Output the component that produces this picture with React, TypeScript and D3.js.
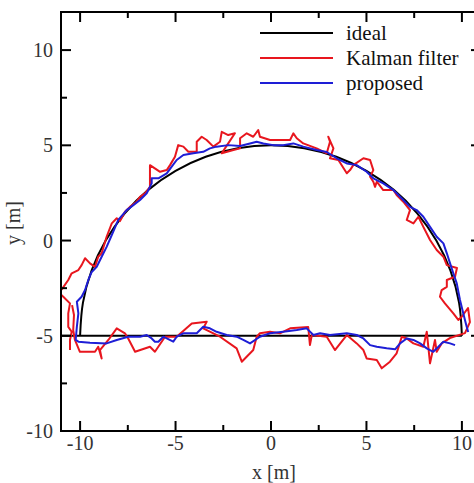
import React from 'react';
import * as d3 from 'd3';

const W = 474;
const H = 483;

const xDomain: [number, number] = [-11, 11];
const yDomain: [number, number] = [-10, 12];
const majorTicks = [-10, -5, 0, 5, 10];
const minorTicks = [-7.5, -2.5, 2.5, 7.5];

// ideal trajectory: half circle + straight return
const idealArc: [number, number][] = [
  [-10, -5], [-9.85, -3.26], [-9.4, -1.58], [-8.66, 0], [-7.66, 1.43], [-6.43, 2.66],
  [-5, 3.66], [-3.42, 4.4], [-1.74, 4.85], [0, 5], [1.74, 4.85], [3.42, 4.4],
  [5, 3.66], [6.43, 2.66], [7.66, 1.43], [8.66, 0], [9.4, -1.58], [9.85, -3.26], [10, -5],
];
const idealLine: [number, number][] = [[10, -5], [-11, -5]];

const kalman: [number, number][] = [
  [-10.53, -5.75], [-10.53, -5.22], [-10.44, -4.79], [-10.62, -4.53], [-10.62, -3.82],
  [-10.53, -3.3], [-10.88, -2.95], [-11.16, -2.7], [-10.95, -2.55], [-10.62, -2.07],
  [-10.44, -1.72], [-10.09, -1.55], [-9.92, -1.29], [-9.74, -0.93], [-9.48, -1.2],
  [-9.22, -1.38], [-9.05, -0.85], [-8.87, -0.67], [-8.61, 0.2], [-8.34, 0.9],
  [-8.08, 1.17], [-7.91, 1.02], [-7.65, 1.51], [-7.39, 1.77], [-7.04, 2.04],
  [-6.86, 2.3], [-6.6, 2.48], [-6.34, 2.82], [-6.34, 3.96], [-5.81, 3.61],
  [-5.46, 3.7], [-5.29, 3.96], [-5.03, 4.4], [-4.86, 5.01], [-4.59, 4.93],
  [-4.33, 4.66], [-3.89, 4.66], [-3.89, 5.19], [-3.63, 5.45], [-3.37, 5.28],
  [-3.02, 4.93], [-2.67, 5.19], [-2.58, 5.71], [-2.24, 5.54], [-1.89, 5.63],
  [-2.24, 5.1], [-2.58, 4.58], [-1.97, 4.75], [-1.62, 4.84], [-1.62, 5.37],
  [-1.27, 5.63], [-0.93, 5.45], [-0.67, 5.8], [-0.58, 5.45], [-0.05, 5.28],
  [0.47, 5.28], [1.0, 5.28], [1.17, 5.63], [1.35, 5.37], [1.69, 5.1],
  [2.39, 4.84], [2.92, 4.58], [3.09, 5.19], [3.0, 5.45], [3.27, 4.84],
  [3.09, 4.32], [3.53, 4.23], [3.97, 3.53], [4.14, 3.7], [4.31, 3.96],
  [4.84, 4.32], [5.19, 4.23], [5.36, 3.7], [5.19, 3.35], [5.36, 3.09],
  [5.45, 2.82], [5.54, 3.09], [5.88, 2.65], [6.41, 2.65], [6.58, 2.39],
  [6.93, 2.04], [7.28, 1.6], [7.11, 1.08], [7.46, 0.9], [7.72, 1.25],
  [7.98, 0.72], [8.33, 0.03], [8.68, -0.5], [9.03, -0.85], [9.21, -1.29],
  [9.74, -1.44], [9.64, -1.9], [9.21, -2.07], [9.21, -2.43], [8.94, -2.6],
  [8.85, -2.95], [9.11, -3.3], [9.55, -3.82], [9.81, -4.17], [9.99, -4.0],
  [10.32, -3.54], [10.42, -4.28], [10.16, -4.86], [9.37, -5.12], [8.94, -5.4],
  [8.68, -5.84], [8.59, -5.22], [8.33, -6.45], [8.16, -4.79], [7.98, -5.58],
  [7.46, -5.4], [7.11, -5.14], [6.85, -5.05], [6.58, -5.92], [6.23, -6.36],
  [5.8, -6.71], [5.54, -6.27], [5.01, -6.19], [4.84, -5.75], [4.49, -5.4],
  [3.97, -4.96], [3.35, -5.75], [2.92, -5.05], [2.14, -4.96], [2.04, -5.49],
  [1.95, -4.54], [1.0, -4.61], [0.47, -4.87], [-0.05, -4.79], [-0.58, -4.87],
  [-0.75, -5.05], [-0.93, -5.75], [-1.53, -6.36], [-1.8, -5.66], [-2.67, -5.05],
  [-3.55, -4.61], [-3.37, -4.26], [-4.15, -4.35], [-4.94, -5.05], [-5.55, -5.05],
  [-6.08, -5.84], [-6.34, -5.58], [-7.12, -5.84], [-7.48, -5.14], [-7.65, -4.87],
  [-8.08, -4.61], [-8.52, -5.22], [-8.96, -5.75], [-8.87, -6.19], [-9.05, -5.58],
  [-9.22, -5.84], [-10.01, -5.84], [-10.27, -5.22], [-10.36, -4.7], [-10.32, -3.91],
  [-10.42, -3.39],
];

const proposed: [number, number][] = [
  [9.64, -5.49], [9.38, -5.4], [9.03, -5.31], [8.77, -5.58], [8.5, -5.84],
  [8.16, -5.66], [7.81, -5.4], [7.46, -5.22], [7.11, -5.14], [6.76, -5.4],
  [6.5, -5.71], [6.06, -5.66], [5.54, -5.58], [5.19, -5.49], [4.84, -5.14],
  [4.49, -4.96], [3.97, -4.87], [3.09, -4.96], [2.57, -4.87], [2.22, -4.96],
  [1.87, -4.61], [1.35, -4.7], [0.64, -4.79], [-0.05, -4.87], [-0.58, -5.05],
  [-1.1, -5.4], [-1.45, -5.22], [-1.8, -5.05], [-2.32, -4.96], [-2.85, -4.79],
  [-3.2, -4.61], [-3.55, -4.53], [-3.89, -4.87], [-4.59, -4.87], [-4.94, -5.05],
  [-5.12, -5.31], [-5.46, -5.14], [-5.64, -5.05], [-5.9, -5.31], [-6.08, -5.31],
  [-6.25, -5.14], [-6.51, -4.96], [-6.86, -5.05], [-7.48, -5.05], [-8.08, -5.22],
  [-8.61, -5.4], [-9.48, -5.36], [-10.09, -5.31], [-10.23, -5.22], [-10.17, -4.53],
  [-10.09, -3.82], [-10.17, -3.21], [-9.92, -2.95], [-9.74, -2.6], [-9.57, -2.07],
  [-9.39, -1.65], [-9.13, -1.38], [-8.87, -0.85], [-8.61, -0.33], [-8.34, 0.29],
  [-8.0, 1.08], [-7.56, 1.6], [-7.21, 1.86], [-6.86, 2.13], [-6.51, 2.48],
  [-6.25, 3.0], [-6.25, 3.27], [-5.9, 3.27], [-5.46, 3.53], [-5.2, 3.88],
  [-4.94, 4.23], [-4.59, 4.49], [-4.07, 4.58], [-3.55, 4.66], [-3.2, 4.84],
  [-2.85, 4.93], [-2.24, 5.01], [-1.62, 4.96], [-1.1, 5.1], [-0.75, 5.19],
  [-0.4, 5.1], [0.12, 5.01], [0.64, 5.01], [1.17, 5.1], [1.69, 4.93],
  [2.39, 4.75], [2.92, 4.65], [3.44, 4.32], [3.97, 4.05], [4.49, 3.96],
  [5.01, 3.61], [5.36, 3.27], [5.88, 3.0], [6.41, 2.65], [6.93, 2.13],
  [7.28, 1.77], [7.63, 1.6], [7.98, 1.25], [8.33, 0.72], [8.68, 0.2],
  [9.03, -0.15], [9.21, -0.67], [9.38, -1.2], [9.55, -1.72], [9.73, -2.25],
  [9.9, -3.12], [10.07, -3.82], [10.25, -4.53], [10.33, -4.8],
];

const legendLabels = ['ideal', 'Kalman filter', 'proposed'];
const legendColors = ['#000000', '#e8161e', '#1e1ed6'];

const margin = { left: 61, top: 12, right: 481, bottom: 431 };
const font = '"Liberation Serif", "Times New Roman", serif';

export default function App() {
  const x = d3.scaleLinear().domain(xDomain).range([margin.left, margin.right]);
  const y = d3.scaleLinear().domain(yDomain).range([margin.bottom, margin.top]);
  const line = d3.line<[number, number]>().x(d => x(d[0])).y(d => y(d[1]));
  const arc = d3.line<[number, number]>().x(d => x(d[0])).y(d => y(d[1])).curve(d3.curveCatmullRom);

  const majorLen = 10;
  const minorLen = 6;

  return (
    <svg width={W} height={H} style={{ position: 'absolute', left: 0, top: 0, background: '#fff' }}>
      <defs>
        <clipPath id="plot">
          <rect x={margin.left} y={margin.top} width={margin.right - margin.left} height={margin.bottom - margin.top} />
        </clipPath>
      </defs>

      <g clipPath="url(#plot)" fill="none" strokeLinejoin="round">
        <path d={arc(idealArc) ?? ''} stroke={legendColors[0]} strokeWidth={2} />
        <path d={line(idealLine) ?? ''} stroke={legendColors[0]} strokeWidth={2} />
        <path d={line(kalman) ?? ''} stroke={legendColors[1]} strokeWidth={2} />
        <path d={line(proposed) ?? ''} stroke={legendColors[2]} strokeWidth={2} />
      </g>

      {/* frame */}
      <rect x={margin.left} y={margin.top} width={margin.right - margin.left} height={margin.bottom - margin.top}
        fill="none" stroke="#000" strokeWidth={2} />

      {/* ticks, inward on all four sides */}
      <g stroke="#000" strokeWidth={2}>
        {majorTicks.map(t => (
          <g key={'mx' + t}>
            <line x1={x(t)} x2={x(t)} y1={margin.bottom} y2={margin.bottom - majorLen} />
            <line x1={x(t)} x2={x(t)} y1={margin.top} y2={margin.top + majorLen} />
            <line y1={y(t)} y2={y(t)} x1={margin.left} x2={margin.left + majorLen} />
            <line y1={y(t)} y2={y(t)} x1={margin.right} x2={margin.right - majorLen} />
          </g>
        ))}
        {minorTicks.map(t => (
          <g key={'mn' + t}>
            <line x1={x(t)} x2={x(t)} y1={margin.bottom} y2={margin.bottom - minorLen} />
            <line x1={x(t)} x2={x(t)} y1={margin.top} y2={margin.top + minorLen} />
            <line y1={y(t)} y2={y(t)} x1={margin.left} x2={margin.left + minorLen} />
            <line y1={y(t)} y2={y(t)} x1={margin.right} x2={margin.right - minorLen} />
          </g>
        ))}
      </g>

      <g fontFamily={font} fontSize={20} fill="#333">
        {majorTicks.map(t => (
          <text key={'xl' + t} x={x(t)} y={450} textAnchor="middle">{t}</text>
        ))}
        {majorTicks.map(t => (
          <text key={'yl' + t} x={53} y={y(t) + 7} textAnchor="end">{t}</text>
        ))}
        <text x={274} y={479} textAnchor="middle">x [m]</text>
        <text transform={`translate(20,223) rotate(-90)`} textAnchor="middle">y [m]</text>
      </g>

      {/* legend */}
      <g fontFamily={font} fontSize={21} fill="#111">
        {legendLabels.map((lab, i) => (
          <g key={lab}>
            <line x1={260} x2={333} y1={33 + i * 25} y2={33 + i * 25} stroke={legendColors[i]} strokeWidth={2} />
            <text x={346} y={40 + i * 25}>{lab}</text>
          </g>
        ))}
      </g>
    </svg>
  );
}
